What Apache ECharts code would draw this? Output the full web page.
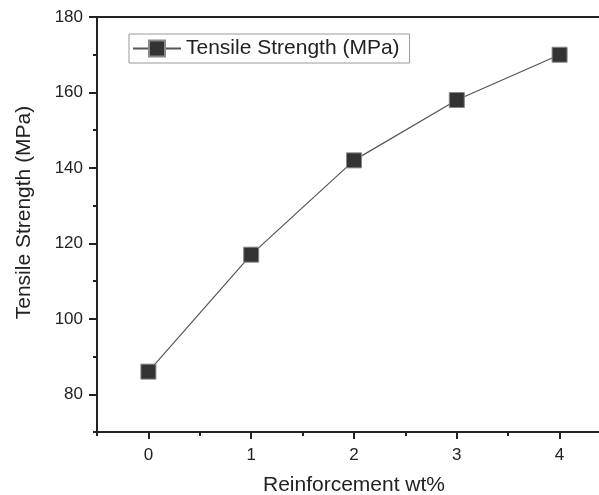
<!DOCTYPE html>
<html>
<head>
<meta charset="utf-8">
<script src="https://cdn.jsdelivr.net/npm/echarts@6/dist/echarts.min.js"></script>
<style>html,body{margin:0;padding:0;background:#fff}#c{width:599px;height:495px}</style>
</head>
<body>
<div id="c"></div>
<script>
var reinforcement = [0, 1, 2, 3, 4];
var tensileStrength = [86, 117, 142, 158, 170];
var xTickLabels = [0, 1, 2, 3, 4];
var xMinorTicks = [-0.5, 0.5, 1.5, 2.5, 3.5, 4.5];
var yTickLabels = [80, 100, 120, 140, 160, 180];
var yMinorTicks = [70, 90, 110, 130, 150, 170];
var seriesName = 'Tensile Strength (MPa)';

var axisColor = '#222';
var font = 'Liberation Sans, Arial, sans-serif';
var chart = echarts.init(document.getElementById('c'));
chart.setOption({
  animation: false,
  backgroundColor: '#fff',
  grid: { left: 97, top: 17, width: 514, height: 415, containLabel: false, outerBoundsMode: 'none' },
  legend: {
    left: 129, top: 34,
    data: [seriesName],
    orient: 'horizontal',
    padding: [4, 10, 4, 3],
    borderColor: '#999', borderWidth: 1, borderRadius: 0,
    itemWidth: 48, itemHeight: 20, itemGap: 8,
    textStyle: { fontFamily: font, fontSize: 21, color: '#222' }
  },
  xAxis: [
    {
      type: 'value', min: -0.5, max: 4.5, interval: 0.5, position: 'bottom',
      name: 'Reinforcement wt%', nameLocation: 'middle', nameGap: 43,
      nameTextStyle: { fontFamily: font, fontSize: 21, color: '#222' },
      axisLine: { show: true, onZero: false, lineStyle: { color: axisColor, width: 2 } },
      axisTick: { show: true, inside: false, length: 7, customValues: xTickLabels, lineStyle: { color: axisColor, width: 2 } },
      axisLabel: { customValues: xTickLabels, margin: 15, fontFamily: font, fontSize: 17, color: '#222' },
      splitLine: { show: false }
    },
    {
      type: 'value', min: -0.5, max: 4.5, interval: 0.5, position: 'bottom',
      axisLine: { show: false, onZero: false },
      axisTick: { show: true, inside: false, length: 4, customValues: xMinorTicks, lineStyle: { color: axisColor, width: 2 } },
      axisLabel: { show: false },
      splitLine: { show: false }
    },
    {
      type: 'value', min: -0.5, max: 4.5, interval: 0.5, position: 'top',
      axisLine: { show: true, onZero: false, lineStyle: { color: axisColor, width: 2 } },
      axisTick: { show: false }, axisLabel: { show: false }, splitLine: { show: false }
    }
  ],
  yAxis: [
    {
      type: 'value', min: 70, max: 180, interval: 10, position: 'left',
      name: seriesName, nameLocation: 'middle', nameGap: 62,
      nameTextStyle: { fontFamily: font, fontSize: 21, color: '#222', padding: [0, 0, 0, 24] },
      axisLine: { show: true, onZero: false, lineStyle: { color: axisColor, width: 2 } },
      axisTick: { show: true, inside: false, length: 8, customValues: yTickLabels, lineStyle: { color: axisColor, width: 2 } },
      axisLabel: { customValues: yTickLabels, margin: 14, fontFamily: font, fontSize: 17, color: '#222' },
      splitLine: { show: false }
    },
    {
      type: 'value', min: 70, max: 180, interval: 10, position: 'left',
      axisLine: { show: false, onZero: false },
      axisTick: { show: true, inside: false, length: 4, customValues: yMinorTicks, lineStyle: { color: axisColor, width: 2 } },
      axisLabel: { show: false },
      splitLine: { show: false }
    }
  ],
  series: [{
    name: seriesName,
    type: 'line',
    xAxisIndex: 0, yAxisIndex: 0,
    data: reinforcement.map(function (x, i) { return [x, tensileStrength[i]]; }),
    symbol: 'rect', symbolSize: 15,
    itemStyle: { color: '#333', borderColor: '#888', borderWidth: 1 },
    lineStyle: { color: '#555', width: 1.2 }
  }]
});
</script>
</body>
</html>
